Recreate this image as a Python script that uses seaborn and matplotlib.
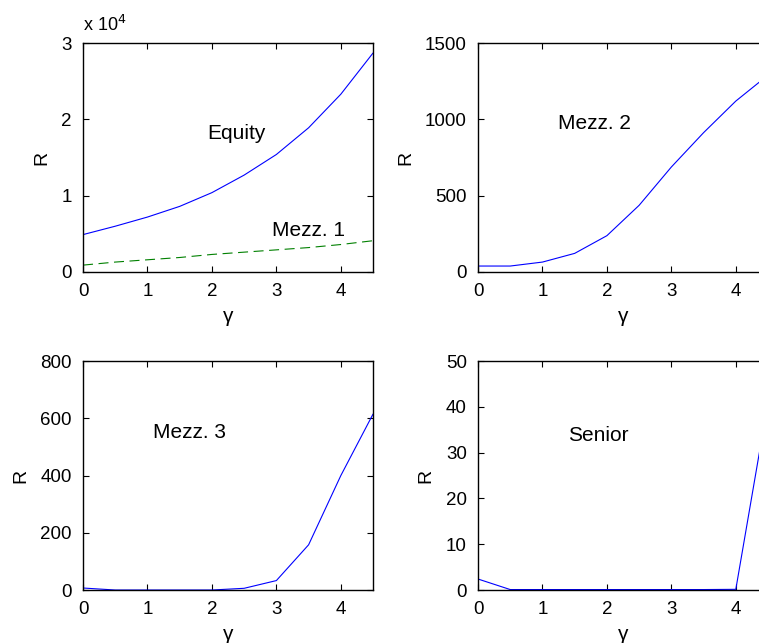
import pandas as pd
import seaborn as sns
import matplotlib.pyplot as plt
from matplotlib.ticker import FuncFormatter

gamma = [0, 0.5, 1, 1.5, 2, 2.5, 3, 3.5, 4, 4.5]
equity = [4900, 6000, 7200, 8600, 10400, 12700, 15400, 18900, 23300, 28700]
mezz1 = [900, 1300, 1600, 1900, 2300, 2600, 2900, 3200, 3600, 4100]
mezz2 = [39, 39, 65, 122, 238, 437, 688, 913, 1120, 1290]
mezz3 = [7, 0, 0, 0, 0, 6, 33, 158, 400, 615]
senior = [2.4, 0.1, 0.1, 0.1, 0.1, 0.1, 0.1, 0.1, 0.15, 41]

df = pd.DataFrame({"gamma": gamma, "Equity": equity, "Mezz. 1": mezz1,
                   "Mezz. 2": mezz2, "Mezz. 3": mezz3, "Senior": senior})

sns.set_style("ticks")
plt.rcParams["font.family"] = ["Liberation Sans", "DejaVu Sans"]
plt.rcParams["font.size"] = 13
plt.rcParams["text.color"] = "black"
plt.rcParams["axes.labelcolor"] = "black"
plt.rcParams["xtick.direction"] = "in"
plt.rcParams["ytick.direction"] = "in"
plt.rcParams["xtick.top"] = True
plt.rcParams["ytick.right"] = True

fig = plt.figure(figsize=(7.59, 6.43), dpi=100)
w, h = 0.3821, 0.356
ax1 = fig.add_axes([0.1094, 0.577, w, h])
ax2 = fig.add_axes([0.6298, 0.577, w, h])
ax3 = fig.add_axes([0.1094, 0.0824, w, h])
ax4 = fig.add_axes([0.6298, 0.0824, w, h])

blue = (0, 0, 1)
sns.lineplot(data=df, x="gamma", y="Equity", ax=ax1, color=blue, lw=0.8)
sns.lineplot(data=df, x="gamma", y="Mezz. 1", ax=ax1, color=(0, 0.5, 0), lw=0.8,
             dashes=False, linestyle=(0, (9, 5)))
sns.lineplot(data=df, x="gamma", y="Mezz. 2", ax=ax2, color=blue, lw=0.8)
sns.lineplot(data=df, x="gamma", y="Mezz. 3", ax=ax3, color=blue, lw=0.8)
sns.lineplot(data=df, x="gamma", y="Senior", ax=ax4, color=blue, lw=0.8)

ax1.set_ylim(0, 30000)
ax1.set_yticks([0, 10000, 20000, 30000])
ax1.yaxis.set_major_formatter(FuncFormatter(lambda v, p: f"{v / 1e4:g}"))
ax1.text(0, 1.035, "x 10$^4$", transform=ax1.transAxes, ha="left", va="bottom", fontsize=13)
ax2.set_ylim(0, 1500)
ax2.set_yticks([0, 500, 1000, 1500])
ax3.set_ylim(0, 800)
ax3.set_yticks([0, 200, 400, 600, 800])
ax4.set_ylim(0, 50)
ax4.set_yticks([0, 10, 20, 30, 40, 50])

ax1.text(1.93, 18200, "Equity", va="center", fontsize=15)
ax1.text(2.93, 5500, "Mezz. 1", va="center", fontsize=15)
ax2.text(1.24, 976, "Mezz. 2", va="center", fontsize=15)
ax3.text(1.09, 552, "Mezz. 3", va="center", fontsize=15)
ax4.text(1.40, 33.8, "Senior", va="center", fontsize=15)

for ax in [ax1, ax2, ax3, ax4]:
    ax.set_xlim(0, 4.5)
    ax.set_xticks([0, 1, 2, 3, 4])
    ax.set_xlabel("γ", fontsize=15, labelpad=5)
    ax.set_ylabel("R", fontsize=14, labelpad=8)
    ax.tick_params(length=4, width=0.8, colors="black", labelsize=13.5, pad=8)
    for s in ax.spines.values():
        s.set_linewidth(1)
        s.set_color("black")

fig.savefig("out.png", dpi=100)
